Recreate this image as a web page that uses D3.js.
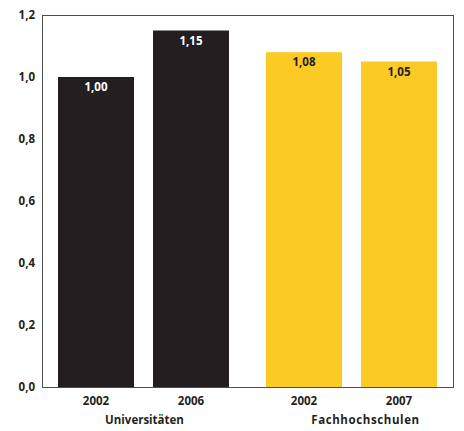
<!DOCTYPE html>
<html>
<head>
<meta charset="utf-8">
<script src="https://cdn.jsdelivr.net/npm/d3@7"></script>
<style>
  html, body { margin: 0; padding: 0; background: #fff; }
  svg text { font-family: "Open Sans", "DejaVu Sans", sans-serif; font-weight: 700; fill: #231f20; }
</style>
</head>
<body>
<svg id="chart" width="464" height="431"></svg>
<script>
// Ratio values per type of institution and survey year
const groups = ["Universitäten", "Fachhochschulen"];
const years = [["2002", "2006"], ["2002", "2007"]];
const values = [[1.00, 1.15], [1.08, 1.05]];
const groupColors = ["#231f20", "#fcca24"];
const labelColors = ["#ffffff", "#231f20"];
const yTicks = [0, 0.2, 0.4, 0.6, 0.8, 1.0, 1.2];

const fmt = v => d3.format(".1f")(v).replace(".", ",");
const fmt2 = v => d3.format(".2f")(v).replace(".", ",");

const svg = d3.select("#chart");
const m = { left: 42, right: 453, top: 15, bottom: 387 };

const y = d3.scaleLinear().domain([0, 1.2]).range([m.bottom, m.top]);
const x0 = d3.scaleBand().domain(groups).range([m.left, m.right])
  .paddingInner(0.178).paddingOuter(0.077);
const x1 = d3.scaleBand().domain([0, 1]).range([0, x0.bandwidth()])
  .paddingInner(0.2).paddingOuter(0);

// Frame around the plot area
svg.append("rect")
  .attr("x", m.left + 0.5).attr("y", m.top + 0.5)
  .attr("width", m.right - m.left).attr("height", m.bottom - m.top)
  .attr("fill", "none").attr("stroke", "#4d4d4f").attr("stroke-width", 1);

// Y axis labels
const yAxis = d3.axisLeft(y).tickValues(yTicks).tickFormat(fmt).tickSize(0).tickPadding(7);
const ya = svg.append("g").attr("transform", `translate(${m.left},0)`).call(yAxis);
ya.select(".domain").remove();
ya.selectAll("text").attr("font-size", 11.5).style("font-family", null).attr("font-family", null);

// Bars with value labels
groups.forEach((g, gi) => {
  const gx = x0(g);
  const gg = svg.append("g").attr("transform", `translate(${gx},0)`);
  values[gi].forEach((v, i) => {
    const bx = x1(i);
    gg.append("rect")
      .attr("x", bx).attr("y", y(v))
      .attr("width", x1.bandwidth()).attr("height", y(0) - y(v))
      .attr("fill", groupColors[gi]);
    gg.append("text")
      .attr("x", bx + x1.bandwidth() / 2).attr("y", y(v) + 14)
      .attr("text-anchor", "middle").attr("font-size", 11.5)
      .style("fill", labelColors[gi])
      .text(fmt2(v));
    gg.append("text")
      .attr("x", bx + x1.bandwidth() / 2).attr("y", m.bottom + 18)
      .attr("text-anchor", "middle").attr("font-size", 11.5)
      .text(years[gi][i]);
  });
  svg.append("text")
    .attr("x", gx + x0.bandwidth() / 2 + (gi === 1 ? 14 : 1)).attr("y", m.bottom + 37)
    .attr("text-anchor", "middle").attr("font-size", 11.5)
    .attr("letter-spacing", gi === 1 ? 0.6 : 0)
    .text(g);
});
</script>
</body>
</html>
